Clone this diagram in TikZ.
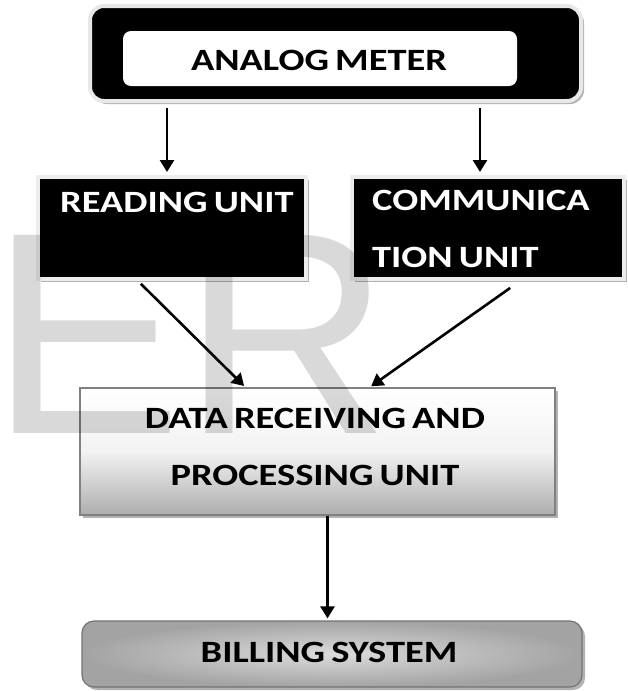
\documentclass[tikz,border=0pt]{standalone}
\usepackage{graphicx}
\usepackage{fontspec}
\setmainfont{Carlito}
\newfontfamily\wmfont{Liberation Sans}
\usetikzlibrary{arrows.meta,shadows}
% labels are set a little wider than the font's natural width, with tight word spaces
\newcommand\wt[1]{\scalebox{1.24}[1]{\spaceskip=0.16em\relax #1}}

\tikzset{
  lbl/.style={font=\fontsize{31}{57}\selectfont\bfseries, inner sep=0pt},
  softshadow/.style={drop shadow={shadow xshift=3pt, shadow yshift=-3pt, opacity=0.3, fill=black}},
  meterbox/.style={draw=black!9, line width=4pt, fill=black, rounded corners=14pt,
    softshadow, inner sep=0pt},
  meterface/.style={fill=white, rounded corners=8pt, inner sep=0pt},
  unitbox/.style={draw=black!7, line width=4pt, fill=black, softshadow, inner sep=0pt},
  databox/.style={draw=black!50, line width=1.2pt, top color=white, bottom color=black!32,
    middle color=black!5, softshadow, inner sep=0pt},
  billbox/.style={draw=black!55, line width=1.2pt, rounded corners=12pt,
    inner color=black!14, outer color=black!36, softshadow, inner sep=0pt},
  arr/.style={line width=2.6pt, -{Triangle[length=12pt,width=14pt]}},
}

\begin{document}
\begin{tikzpicture}[x=1pt,y=-1pt]
\useasboundingbox (0,0) rectangle (628,691);

% receiving / processing block
\node[databox, minimum width=475pt, minimum height=127pt] (data) at (317.5,451.5) {};
\node[lbl, align=center, anchor=north] (datatext) at (315,408)
  {\wt{DATA RECEIVING AND}\\ \wt{PROCESSING UNIT}};

% billing block
\node[billbox, minimum width=500pt, minimum height=66pt] (bill) at (332,654) {};
\node[lbl, anchor=base] (billtext) at (329,662) {\wt{BILLING SYSTEM}};

% meter: dark frame with a white face
\node[meterbox, minimum width=491pt, minimum height=95pt] (meter) at (335.5,53.5) {};
\node[meterface, minimum width=394pt, minimum height=55pt] (face) at (320,58.5) {};
\node[lbl, anchor=base] (metertext) at (319,70) {\wt{ANALOG METER}};

% the two units below the meter
\node[unitbox, minimum width=268pt, minimum height=102pt] (read) at (172,228) {};
\node[lbl, text=white, anchor=base west] (readtext) at (60,212) {\wt{READING UNIT}};
\node[unitbox, minimum width=272pt, minimum height=102pt] (comm) at (488,228) {};
\node[lbl, text=white, align=left, anchor=north west] (commtext) at (372,190)
  {\wt{COMMUNICA}\\ \wt{TION UNIT}};

% connectors
\draw[arr, shorten <=5pt, shorten >=3pt] ([xshift=-5pt]read.north |- meter.south) -- ([xshift=-5pt]read.north);
\draw[arr, shorten <=5pt, shorten >=3pt] ([xshift=-8pt]comm.north |- meter.south) -- ([xshift=-8pt]comm.north);
\draw[arr, shorten <=4pt, shorten >=2pt] ([xshift=-34pt]read.south) -- ([xshift=-72pt]data.north);
\draw[arr, shorten <=12pt, shorten >=2pt] ([xshift=32pt]comm.south) -- ([xshift=52pt]data.north);
\draw[arr, shorten >=2pt] ([xshift=10pt]data.south) -- ([xshift=10pt]data.south |- bill.north);

% faint lettering across the page
\begin{scope}[blend mode=multiply]
\node[font=\fontsize{288}{288}\selectfont\wmfont, text=black!15, inner sep=0pt, anchor=base west]
  (mark) at (-10,433) {ER};
\end{scope}
\end{tikzpicture}
\end{document}
